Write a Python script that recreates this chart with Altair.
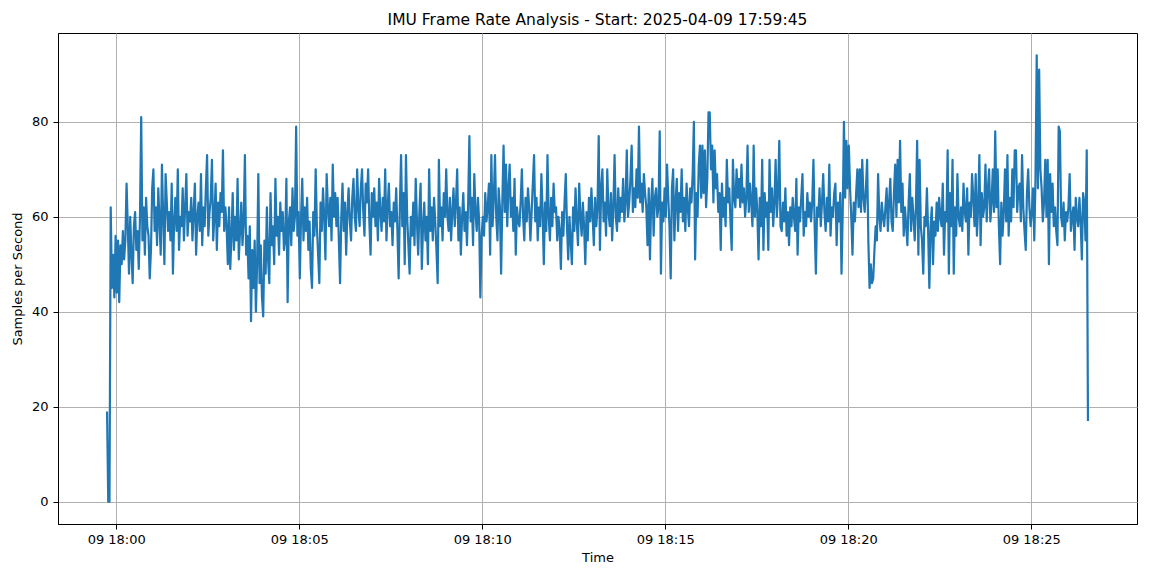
import altair as alt
import pandas as pd

# ---- data: samples per second, one reading every 2 s starting 2025-04-09 17:59:45 ----
start_time = "2025-04-09 17:59:45"
step_seconds = 2

head = [19, 0, 0, 62, 45, 52, 43, 56]
m00 = [44, 55, 42, 54, 50, 57, 51, 55, 67, 58, 48, 60, 52, 46, 58, 61, 53, 57, 49, 60, 81, 55, 62, 52, 64, 58, 56, 47, 53, 66]
m01 = [70, 57, 62, 54, 66, 59, 52, 71, 60, 50, 69, 63, 57, 61, 55, 67, 48, 59, 64, 57, 70, 53, 60, 58, 66, 55, 62, 69, 56, 61]
m02 = [59, 64, 55, 61, 67, 52, 60, 63, 57, 69, 54, 62, 58, 66, 73, 56, 61, 64, 72, 55, 60, 67, 53, 63, 58, 65, 61, 74, 57, 62]
m03 = [58, 50, 62, 49, 56, 65, 53, 60, 55, 68, 51, 57, 63, 54, 59, 73, 52, 56, 47, 58, 38, 53, 45, 55, 40, 50, 69, 46, 54, 43]
m04 = [39, 55, 48, 62, 51, 46, 65, 54, 58, 50, 68, 56, 60, 52, 63, 57, 61, 53, 55, 68, 42, 59, 62, 54, 66, 57, 60, 79, 56, 61]
m05 = [47, 60, 68, 55, 62, 57, 64, 53, 59, 49, 45, 61, 56, 70, 58, 52, 46, 63, 57, 66, 60, 51, 69, 62, 58, 64, 55, 71, 60, 65]
m06 = [58, 64, 55, 46, 60, 67, 57, 63, 52, 61, 66, 59, 55, 64, 68, 60, 57, 70, 62, 58, 66, 70, 61, 56, 67, 63, 70, 59, 52, 65]
m07 = [60, 66, 58, 63, 55, 68, 61, 57, 64, 59, 70, 55, 62, 67, 58, 61, 54, 63, 59, 66, 57, 47, 62, 73, 58, 65, 50, 73, 60, 54]
m08 = [48, 60, 56, 63, 54, 68, 59, 52, 61, 67, 49, 58, 63, 55, 60, 50, 70, 57, 62, 55, 64, 59, 53, 46, 72, 58, 62, 55, 65, 60]
m09 = [70, 60, 57, 64, 55, 61, 66, 58, 63, 70, 55, 62, 52, 60, 65, 57, 61, 54, 63, 77, 59, 64, 54, 69, 61, 57, 64, 59, 43, 56]
m10 = [60, 56, 65, 59, 62, 67, 52, 73, 58, 64, 73, 60, 55, 66, 62, 48, 63, 75, 61, 71, 58, 66, 71, 60, 64, 57, 68, 52, 62, 59]
m11 = [58, 63, 70, 60, 55, 64, 59, 66, 62, 55, 61, 67, 73, 59, 64, 55, 62, 58, 69, 61, 50, 63, 57, 73, 60, 55, 64, 58, 67, 61]
m12 = [62, 55, 60, 57, 49, 61, 56, 63, 69, 58, 51, 60, 55, 50, 62, 57, 66, 59, 54, 67, 60, 56, 63, 58, 50, 61, 55, 64, 59, 66]
m13 = [60, 54, 64, 58, 62, 77, 53, 66, 70, 59, 63, 56, 70, 61, 58, 65, 55, 62, 73, 60, 57, 66, 59, 64, 61, 68, 59, 63, 74, 60]
m14 = [63, 68, 75, 61, 66, 62, 70, 64, 79, 63, 67, 61, 69, 65, 62, 54, 66, 51, 63, 68, 56, 64, 66, 60, 62, 78, 48, 63, 59, 66]
m15 = [60, 71, 64, 58, 47, 66, 70, 55, 63, 68, 57, 65, 61, 70, 59, 64, 57, 67, 62, 58, 66, 63, 69, 80, 51, 65, 60, 71, 75, 64]
m16 = [75, 65, 74, 62, 68, 82, 82, 70, 75, 63, 74, 66, 69, 61, 65, 53, 67, 60, 64, 58, 72, 63, 66, 59, 53, 72, 64, 62, 70, 64]
m17 = [68, 62, 71, 63, 66, 60, 64, 75, 61, 67, 63, 58, 75, 60, 66, 61, 51, 64, 58, 72, 53, 65, 60, 63, 53, 72, 61, 66, 58, 63]
m18 = [72, 60, 65, 76, 58, 57, 63, 59, 66, 56, 61, 54, 62, 58, 64, 60, 57, 68, 52, 62, 59, 64, 69, 56, 61, 58, 65, 60, 63, 59]
m19 = [63, 72, 58, 48, 62, 60, 66, 58, 63, 69, 61, 57, 64, 59, 71, 56, 62, 60, 65, 67, 54, 63, 59, 65, 48, 61, 80, 64, 76, 66]
m20 = [75, 66, 60, 52, 63, 59, 65, 70, 62, 70, 61, 72, 64, 61, 66, 72, 55, 45, 50, 46, 47, 53, 58, 55, 69, 60, 57, 63, 60, 58]
m21 = [62, 66, 57, 63, 68, 59, 57, 65, 71, 60, 72, 63, 76, 61, 67, 56, 62, 58, 54, 63, 69, 57, 64, 60, 55, 62, 76, 52, 72, 58]
m22 = [55, 48, 60, 58, 66, 57, 45, 58, 62, 50, 59, 56, 63, 57, 64, 60, 58, 67, 52, 61, 59, 74, 48, 65, 58, 72, 48, 62, 56, 69]
m23 = [60, 58, 62, 57, 67, 61, 59, 66, 52, 63, 60, 69, 64, 58, 69, 56, 62, 73, 54, 65, 60, 62, 71, 59, 66, 70, 59, 63, 70, 61]
m24 = [78, 62, 70, 58, 50, 63, 56, 61, 70, 59, 73, 56, 64, 59, 70, 62, 74, 74, 61, 66, 67, 59, 73, 62, 57, 53, 65, 70, 62, 58]
m25 = [61, 66, 55, 68, 94, 66, 91, 70, 66, 59, 63, 72, 60, 72, 50, 69, 61, 67, 58, 62, 57, 54, 79, 78, 60, 58, 63, 55, 61, 59]
m26 = [62, 69, 57, 60, 62, 53, 64, 60, 58, 64, 59, 51, 65, 63, 55, 74, 17]

tick_minutes = [0, 5, 10, 15, 20, 25]   # 09 18:00 ... 09 18:25
y_ticks = [0, 20, 40, 60, 80]
title_text = "IMU Frame Rate Analysis - Start: 2025-04-09 17:59:45"

values = (head + m00 + m01 + m02 + m03 + m04 + m05 + m06 + m07 + m08 + m09 + m10 + m11
          + m12 + m13 + m14 + m15 + m16 + m17 + m18 + m19 + m20 + m21 + m22 + m23 + m24
          + m25 + m26)
times = pd.date_range(start=start_time, periods=len(values), freq=f"{step_seconds}s")
df = pd.DataFrame({"time": times.strftime("%Y-%m-%dT%H:%M:%S"), "rate": values})


def to_dt(ts):
    return alt.DateTime(year=ts.year, month=ts.month, date=ts.day, hours=ts.hour,
                        minutes=ts.minute, seconds=ts.second,
                        milliseconds=int(ts.microsecond / 1000))


# matplotlib-style 5% margins
t0, t1 = times[0], times[-1]
pad_t = (t1 - t0) * 0.05
x_domain = [to_dt(t0 - pad_t), to_dt(t1 + pad_t)]
vmin, vmax = min(values), max(values)
pad_v = (vmax - vmin) * 0.05
y_domain = [vmin - pad_v, vmax + pad_v]

x_ticks = [alt.DateTime(year=2025, month=4, date=9, hours=18, minutes=m) for m in tick_minutes]

chart = (
    alt.Chart(df)
    .mark_line(color="#1f77b4", strokeWidth=2.2, strokeJoin="round")
    .encode(
        x=alt.X(
            "time:T",
            scale=alt.Scale(domain=x_domain),
            axis=alt.Axis(values=x_ticks, format="%d %H:%M", title="Time",
                          labelPadding=4, titlePadding=5, labelFlush=False),
        ),
        y=alt.Y(
            "rate:Q",
            scale=alt.Scale(domain=y_domain, nice=False, zero=False),
            axis=alt.Axis(values=y_ticks, title="Samples per Second",
                          labelPadding=5, titlePadding=7),
        ),
    )
    .properties(
        width=1079,
        height=491,
        title=alt.TitleParams(title_text, font="DejaVu Sans", fontSize=15.5,
                              fontWeight="normal", color="black", offset=5),
        autosize=alt.AutoSizeParams(type="none"),
        padding={"left": 50, "top": 25, "right": 5, "bottom": 41},
    )
    .configure_view(stroke="black", strokeWidth=1)
    .configure_axis(
        labelFont="DejaVu Sans", labelFontSize=13, labelColor="black",
        titleFont="DejaVu Sans", titleFontSize=13, titleFontWeight="normal",
        titleColor="black", domainColor="black", domainWidth=1,
        tickColor="black", tickSize=5, tickWidth=1,
        grid=True, gridColor="#b0b0b0", gridWidth=1,
    )
)

chart.save("out.html", embed_options={"renderer": "svg", "actions": False})
